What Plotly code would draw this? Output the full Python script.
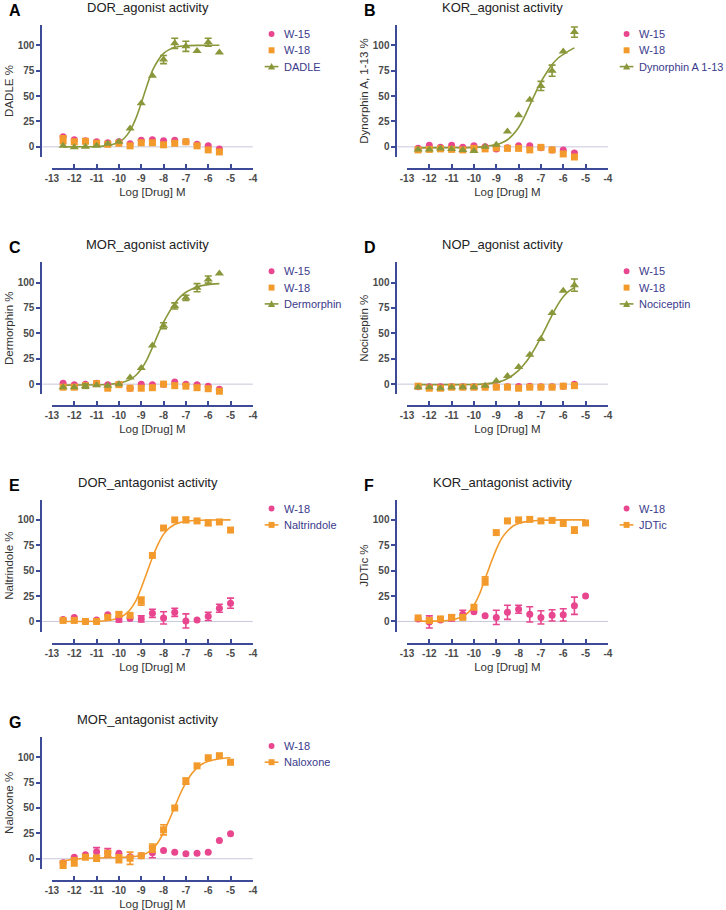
import plotly.graph_objects as go

# ---------------- data ----------------
DOSE_AG = [-12.5, -12, -11.5, -11, -10.5, -10, -9.5, -9, -8.5, -8, -7.5, -7, -6.5, -6, -5.5]
DOSE_ANT = [-12.5, -12, -11.5, -11, -10.5, -10, -9.5, -9, -8.5, -8, -7.5, -7, -6.5, -6, -5.5, -5]
X_TICKS = [-13, -12, -11, -10, -9, -8, -7, -6, -5, -4]
X_TICK_LABELS = ["-13", "-12", "-11", "-10", "-9", "-8", "-7", "-6", "-5", "-4"]
Y_TICKS = [0, 25, 50, 75, 100]
Y_TICK_LABELS = ["0", "25", "50", "75", "100"]

# A: DOR agonist
A_W15 = [10, 7, 6, 5, 4, 5, 3, 6.5, 7, 6, 6.5, 5, 2.5, 1, -2]
A_W18 = [7, 5, 5.5, 3.5, 2.5, 3.5, 1, 4, 4, 2, 3.5, 5, 1, -3, -5]
A_W18_ERR = [4, 0, 0, 0, 0, 0, 0, 0, 0, 0, 0, 0, 0, 0, 0]
A_DADLE = [1, -0.5, 0, 1, 3, 5, 18, 43, 70, 86, 102, 99, 94.5, 103, 93]
A_DADLE_ERR = [0, 0, 0, 0, 0, 0, 0, 0, 0, 4, 5, 5, 0, 4, 0]
A_FIT_X = [-12.5, -11.5, -11, -10.5, -10.25, -10, -9.75, -9.5, -9.25, -9, -8.75, -8.5, -8.25, -8, -7.75, -7.5, -7, -6.5, -6, -5.5]
A_FIT_Y = [0, 0.1, 0.4, 1.2, 2.5, 4.6, 8.7, 16, 27.5, 43, 60, 75, 85, 92, 95.7, 98, 99.5, 99.9, 100, 100]

# B: KOR agonist
B_W15 = [-1.5, 1.5, -0.5, 1.5, -0.5, 1, 0, -2, -1, 1, 1, -1, -3, -3, -6]
B_W18 = [-3, -2.5, -2, -2.5, -3, -1.5, -2, -1, -1.5, -1.5, -3, -0.5, -3, -7, -10]
B_DYN = [-2.6, -2.6, -1.6, -2, -3, -4, 0, 2, 15, 31, 46.5, 60, 75, 94, 113]
B_DYN_ERR = [0, 0, 0, 0, 0, 0, 0, 0, 0, 0, 0, 4.5, 5.5, 0, 5]
B_FIT_X = [-12.5, -11, -10, -9.5, -9, -8.75, -8.5, -8.25, -8, -7.75, -7.5, -7.25, -7, -6.75, -6.5, -6.25, -6, -5.75, -5.5]
B_FIT_Y = [-1, -0.8, -0.5, 0.5, 2, 4, 7, 12, 19, 29, 41, 53, 64, 73, 81, 87, 91, 94.5, 97.5]

# C: MOR agonist
C_W15 = [1, -0.5, 0, 1, -0.5, 0, -4, 0, -0.5, 0, 2, 0, -0.5, -2, -5]
C_W18 = [-3, -3, -1.5, 0.5, -4, -0.5, -4, -4, -3.5, 0, -1.5, -2, -3.5, -4.5, -7]
C_DERM = [-3, -3, -2, -1, -1.5, 0, 6.5, 16, 38, 57.5, 77, 85, 95, 103, 109]
C_DERM_ERR = [0, 0, 2, 0, 0, 0, 0, 0, 0, 3, 3, 2.5, 4, 3.5, 0]
C_FIT_X = [-12.5, -11.5, -10.5, -10, -9.75, -9.5, -9.25, -9, -8.75, -8.5, -8.25, -8, -7.75, -7.5, -7.25, -7, -6.75, -6.5, -6, -5.5]
C_FIT_Y = [-1, -0.8, -0.3, 1, 2.3, 4.5, 8.5, 15, 24, 36, 49, 61, 71, 79.5, 86, 90.5, 93.5, 95.8, 98, 99]

# D: NOP agonist
D_W15 = [-2.5, -2.5, -2.5, -2.5, -2.5, -2.5, -2.5, -2.5, -2.5, -2.3, -2, -2.5, -2.5, -2, 0]
D_W18 = [-2, -4, -4, -3, -3, -3, -3, -3, -3, -4, -3, -3, -3, -2, -1.5]
D_NOC = [-3, -3, -4, -3, -3, -3, -1.5, 3, 8, 17, 29, 44.5, 70, 92, 97.5]
D_NOC_ERR = [0, 0, 0, 0, 0, 0, 0, 0, 0, 0, 0, 0, 0, 0, 6]
D_FIT_X = [-12.5, -11, -10, -9.5, -9, -8.75, -8.5, -8.25, -8, -7.75, -7.5, -7.25, -7, -6.75, -6.5, -6.25, -6, -5.75, -5.5]
D_FIT_Y = [-0.5, -0.5, -0.4, 0.3, 1.5, 3, 5.5, 9, 13.5, 19.5, 27, 36, 46, 57, 68, 78, 86, 91.5, 95]

# E: DOR antagonist
E_W18 = [2, 4, 0, 1.5, 6.5, 2, 3, 2.5, 8, 3.5, 9, 0.5, 1.5, 5, 13, 18]
E_W18_ERR = [0, 0, 1, 0, 0, 2.5, 0, 3, 4, 6, 4, 7, 0, 4, 4, 5]
E_NTI = [1, 1, 0, 0, 4, 7, 6, 20, 65, 92, 100, 100, 99, 97, 98, 90]
E_NTI_ERR = [0, 0, 0, 0, 0, 2, 0, 4, 0, 0, 0, 2.5, 0, 2.5, 0, 0]
E_FIT_X = [-12.5, -11, -10.5, -10.25, -10, -9.75, -9.5, -9.25, -9, -8.75, -8.5, -8.25, -8, -7.75, -7.5, -7.25, -7, -6.5, -6, -5]
E_FIT_Y = [0, 0.2, 1, 2, 3.5, 6.5, 11.5, 20, 33, 48, 63, 76, 86, 92, 95.5, 97.5, 98.6, 99.6, 99.9, 100]

# F: KOR antagonist
F_W18 = [2.5, -0.5, 1.5, 3.5, 7, 9.5, 5.5, 4, 9, 12, 7, 4, 6, 6.5, 15.5, 25]
F_W18_ERR = [0, 6, 0, 3, 4, 0, 0, 7, 7, 4, 7.5, 6.5, 5.5, 6, 8.5, 0]
F_JDTIC = [3.5, 1, 2.5, 4, 4, 14, 40, 87.5, 99, 100, 100.5, 99, 99.5, 96.5, 90, 97]
F_JDTIC_ERR = [0, 2, 0, 2, 0, 0, 4, 0, 0, 0, 0, 0, 0, 0, 3, 0]
F_FIT_X = [-12.5, -12, -11.5, -11, -10.75, -10.5, -10.25, -10, -9.75, -9.5, -9.25, -9, -8.75, -8.5, -8.25, -8, -7.5, -7, -6, -5]
F_FIT_Y = [0.3, 0.3, 0.6, 1.5, 2.8, 5, 9, 16, 27, 42, 57, 71, 82, 89, 94, 96.5, 98.8, 99.6, 100, 100]

# G: MOR antagonist
G_W18 = [-4, 1.5, 4, 7, 6, 5.5, 2, 3, 6, 8, 6.5, 5, 5.5, 6.5, 18, 24.5]
G_W18_ERR = [0, 0, 0, 4, 4, 0, 0, 0, 5, 0, 0, 0, 0, 0, 0, 0]
G_NLX = [-6, -3, 1.5, 0.5, 5, 0, 0.5, 3, 10.5, 28.5, 50, 76.5, 91.5, 99.5, 101.5, 95]
G_NLX_ERR = [4, 4, 0, 3, 3, 4, 6, 0, 4, 5, 0, 3, 0, 0, 0, 0]
G_FIT_X = [-12.5, -12, -11.5, -11, -10, -9.5, -9, -8.75, -8.5, -8.25, -8, -7.75, -7.5, -7.25, -7, -6.75, -6.5, -6.25, -6, -5.5, -5]
G_FIT_Y = [-2, -0.5, 0.5, 0.8, 1.2, 1.8, 3.5, 5.5, 9.5, 16, 26, 38, 51, 64, 75, 83.5, 89.5, 93.5, 96, 98.5, 99.5]

# ---------------- styles ----------------
W, H = 726, 910
PINK = "#e8468f"
ORANGE = "#f39a2c"
OLIVE = "#8a973a"
NAVY = "#3d4a98"
LEG_TXT = "#3a3a8c"
TICK_TXT = "#4a4a4a"
FONT = "Liberation Sans, Arial, sans-serif"

PANELS = [
    dict(letter="A", title="DOR_agonist activity", ylabel="DADLE %", col=0, row=0, dose=DOSE_AG,
         series=[("W-15", A_W15, None, PINK, "circle"), ("W-18", A_W18, A_W18_ERR, ORANGE, "square"),
                 ("DADLE", A_DADLE, A_DADLE_ERR, OLIVE, "triangle-up")], fit=(A_FIT_X, A_FIT_Y)),
    dict(letter="B", title="KOR_agonist activity", ylabel="Dynorphin A, 1-13 %", col=1, row=0, dose=DOSE_AG,
         series=[("W-15", B_W15, None, PINK, "circle"), ("W-18", B_W18, None, ORANGE, "square"),
                 ("Dynorphin A 1-13", B_DYN, B_DYN_ERR, OLIVE, "triangle-up")], fit=(B_FIT_X, B_FIT_Y)),
    dict(letter="C", title="MOR_agonist activity", ylabel="Dermorphin %", col=0, row=1, dose=DOSE_AG,
         series=[("W-15", C_W15, None, PINK, "circle"), ("W-18", C_W18, None, ORANGE, "square"),
                 ("Dermorphin", C_DERM, C_DERM_ERR, OLIVE, "triangle-up")], fit=(C_FIT_X, C_FIT_Y)),
    dict(letter="D", title="NOP_agonist activity", ylabel="Nociceptin %", col=1, row=1, dose=DOSE_AG,
         series=[("W-15", D_W15, None, PINK, "circle"), ("W-18", D_W18, None, ORANGE, "square"),
                 ("Nociceptin", D_NOC, D_NOC_ERR, OLIVE, "triangle-up")], fit=(D_FIT_X, D_FIT_Y)),
    dict(letter="E", title="DOR_antagonist activity", ylabel="Naltrindole %", col=0, row=2, dose=DOSE_ANT,
         series=[("W-18", E_W18, E_W18_ERR, PINK, "circle"),
                 ("Naltrindole", E_NTI, E_NTI_ERR, ORANGE, "square")], fit=(E_FIT_X, E_FIT_Y)),
    dict(letter="F", title="KOR_antagonist activity", ylabel="JDTic %", col=1, row=2, dose=DOSE_ANT,
         series=[("W-18", F_W18, F_W18_ERR, PINK, "circle"),
                 ("JDTic", F_JDTIC, F_JDTIC_ERR, ORANGE, "square")], fit=(F_FIT_X, F_FIT_Y)),
    dict(letter="G", title="MOR_antagonist activity", ylabel="Naloxone %", col=0, row=3, dose=DOSE_ANT,
         series=[("W-18", G_W18, G_W18_ERR, PINK, "circle"),
                 ("Naloxone", G_NLX, G_NLX_ERR, ORANGE, "square")], fit=(G_FIT_X, G_FIT_Y)),
]

COL_DX = 361.0
ROW_DY = 237.3
LEG_ROW0, LEG_ROW_STEP = 34.0, 16.3


def px(xp):
    return xp / W


def py(yp):
    return 1 - yp / H


fig = go.Figure()
layout = dict(
    width=W, height=H, margin=dict(l=0, r=0, t=0, b=0),
    paper_bgcolor="white", plot_bgcolor="rgba(0,0,0,0)",
    font=dict(family=FONT, color="#333"), showlegend=False,
    annotations=[], shapes=[],
)

for k, p in enumerate(PANELS, start=1):
    sfx = "" if k == 1 else str(k)
    ox = p["col"] * COL_DX
    oy = p["row"] * ROW_DY
    xa, ya = "x" + sfx, "y" + sfx
    dose = p["dose"]
    n_series = len(p["series"])

    fit_color = p["series"][-1][3]
    fig.add_trace(go.Scatter(x=p["fit"][0], y=p["fit"][1], mode="lines",
                             line=dict(color=fit_color, width=1.6, shape="spline", smoothing=0.6),
                             xaxis=xa, yaxis=ya, hoverinfo="skip", cliponaxis=False,
                             name=p["series"][-1][0] + " fit"))

    for j, (name, vals, errs, color, sym) in enumerate(p["series"]):
        msize = 8 if sym == "triangle-up" else 7
        if errs is not None:
            ex = [d for d, e in zip(dose, errs) if e]
            ey = [v for v, e in zip(vals, errs) if e]
            ee = [e for e in errs if e]
            fig.add_trace(go.Scatter(x=ex, y=ey, mode="markers",
                                     marker=dict(size=msize, color=color, symbol=sym, opacity=0),
                                     error_y=dict(type="data", array=ee, visible=True, color=color, thickness=1.6, width=3.5),
                                     xaxis=xa, yaxis=ya, hoverinfo="skip", cliponaxis=False, name=name + " SEM"))
        fig.add_trace(go.Scatter(x=dose, y=vals, mode="markers",
                                 marker=dict(size=msize, color=color, symbol=sym, line=dict(width=0)),
                                 xaxis=xa, yaxis=ya, cliponaxis=False, name=name))

        # legend entry (key + label)
        is_ref = (j == n_series - 1)
        cx = ox + 269.0
        cy = oy + LEG_ROW0 + LEG_ROW_STEP * j
        if sym == "circle":
            layout["shapes"].append(dict(type="circle", xref="paper", yref="paper",
                                         x0=px(cx - 3), x1=px(cx + 3), y0=py(cy + 3), y1=py(cy - 3),
                                         fillcolor=color, line=dict(width=0)))
        elif sym == "square":
            if is_ref:
                layout["shapes"].append(dict(type="line", xref="paper", yref="paper",
                                             x0=px(cx - 7), x1=px(cx + 7), y0=py(cy), y1=py(cy),
                                             line=dict(color=color, width=1.6)))
            layout["shapes"].append(dict(type="rect", xref="paper", yref="paper",
                                         x0=px(cx - 3), x1=px(cx + 3), y0=py(cy + 3), y1=py(cy - 3),
                                         fillcolor=color, line=dict(width=0)))
        else:
            layout["shapes"].append(dict(type="line", xref="paper", yref="paper",
                                         x0=px(cx - 7), x1=px(cx + 7), y0=py(cy), y1=py(cy),
                                         line=dict(color=color, width=1.6)))
            path = "M {:.5f},{:.5f} L {:.5f},{:.5f} L {:.5f},{:.5f} Z".format(
                px(cx - 3.6), py(cy + 3), px(cx + 3.6), py(cy + 3), px(cx), py(cy - 3.6))
            layout["shapes"].append(dict(type="path", xref="paper", yref="paper", path=path,
                                         fillcolor=color, line=dict(width=0)))
        layout["annotations"].append(dict(text=name, xref="paper", yref="paper", x=px(ox + 280.0), y=py(cy),
                                          xanchor="left", yanchor="middle", showarrow=False,
                                          font=dict(family=FONT, size=11, color=LEG_TXT)))

    x0, x1 = 45.7 + ox, 250.0 + ox
    ytop, ybot = 25.0 + oy, 157.0 + oy
    layout["xaxis" + sfx] = dict(
        domain=[px(x0), px(x1)], anchor="free", position=py(169.0 + oy),
        range=[-13, -4], tickvals=X_TICKS, ticktext=X_TICK_LABELS,
        ticks="inside", ticklen=4, tickwidth=1.5, tickcolor=NAVY,
        showline=True, linecolor=NAVY, linewidth=2, showgrid=False, zeroline=False,
        tickfont=dict(family=FONT, size=10, color=TICK_TXT, weight="bold"),
        title=dict(text="Log [Drug] M", font=dict(family=FONT, size=11.5, color="#333"), standoff=4),
    )
    layout["yaxis" + sfx] = dict(
        domain=[py(ybot), py(ytop)], anchor="free", position=px(35.0 + ox),
        range=[-10, 120], tickvals=Y_TICKS, ticktext=Y_TICK_LABELS,
        ticks="outside", ticklen=4, tickwidth=1.5, tickcolor=NAVY,
        showline=True, linecolor=NAVY, linewidth=2, showgrid=False, zeroline=False,
        tickfont=dict(family=FONT, size=10, color=TICK_TXT, weight="bold"),
        title=dict(text=p["ylabel"], font=dict(family=FONT, size=11.5, color="#333"), standoff=1),
    )
    # baseline at 0
    layout["shapes"].append(dict(type="line", xref="paper", yref=ya, x0=px(36.0 + ox), x1=px(250.0 + ox), y0=0, y1=0,
                                 line=dict(color="#c8c8dc", width=1), layer="below"))
    # title and panel letter
    layout["annotations"].append(dict(text=p["title"], xref="paper", yref="paper", x=px(143.0 + ox), y=py(7.5 + oy),
                                      xanchor="center", yanchor="middle", showarrow=False,
                                      font=dict(family=FONT, size=13, color="#222")))
    layout["annotations"].append(dict(text="<b>" + p["letter"] + "</b>", xref="paper", yref="paper", x=px(0.0 + ox), y=py(0.0 + oy),
                                      xanchor="left", yanchor="top", showarrow=False,
                                      font=dict(family=FONT, size=16, color="#000")))

fig.update_layout(**layout)
fig.write_html("out.html", config={"displayModeBar": False},
               post_script="document.body.style.margin='0';")
